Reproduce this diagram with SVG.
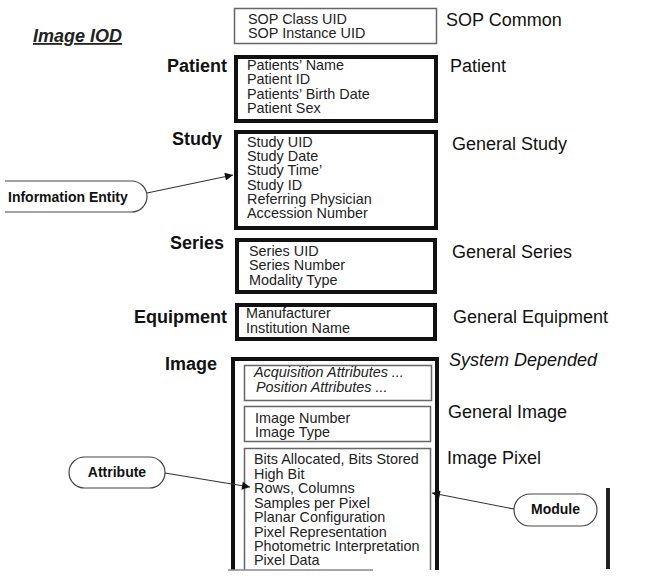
<svg xmlns="http://www.w3.org/2000/svg" width="650" height="583" viewBox="0 0 650 583">
<style>
.attr{font-family:"Liberation Sans",Arial,sans-serif;font-size:14.4px;fill:#222}
.ital{font-style:italic}
.mod{font-family:"Liberation Sans",Arial,sans-serif;font-size:18px;fill:#111}
.ie{font-family:"Liberation Sans",Arial,sans-serif;font-size:18px;font-weight:bold;fill:#111;text-anchor:end}
.call{font-family:"Liberation Sans",Arial,sans-serif;font-size:14px;font-weight:bold;fill:#111}
.thin{fill:#fff;stroke:#666;stroke-width:1.5}
.thick{fill:#fff;stroke:#111;stroke-width:4}
.pill{fill:#fff;stroke:#444;stroke-width:1.2}
.conn{stroke:#333;stroke-width:1.1;fill:none;marker-end:url(#ah)}
</style>
<defs>
<marker id="ah" viewBox="0 0 10 10" refX="10" refY="5" markerWidth="10" markerHeight="8" markerUnits="userSpaceOnUse" orient="auto">
<path d="M0,0 L10,5 L0,10 z" fill="#111"/>
</marker>
</defs>
<rect width="650" height="583" fill="#fff"/>

<g id="title">
<text x="33" y="42" font-family="Liberation Sans, Arial, sans-serif" font-size="18" font-weight="bold" font-style="italic" fill="#222" text-decoration="underline">Image IOD</text>
</g>

<g id="sop-common">
<rect class="thin" x="234.5" y="8.5" width="202" height="35"/>
<text class="attr" x="248" y="24">SOP Class UID</text>
<text class="attr" x="248" y="38">SOP Instance UID</text>
<text class="mod" x="446" y="26">SOP Common</text>
</g>

<g id="patient">
<text class="ie" x="227" y="72">Patient</text>
<rect class="thick" x="236" y="57" width="200" height="64"/>
<text class="attr" x="247" y="70">Patients’ Name</text>
<text class="attr" x="247" y="84.3">Patient ID</text>
<text class="attr" x="247" y="98.6">Patients’ Birth Date</text>
<text class="attr" x="247" y="113">Patient Sex</text>
<text class="mod" x="450" y="72">Patient</text>
</g>

<g id="study">
<text class="ie" x="222" y="145">Study</text>
<rect class="thick" x="236" y="132" width="200" height="96"/>
<text class="attr" x="247" y="147">Study UID</text>
<text class="attr" x="247" y="161.2">Study Date</text>
<text class="attr" x="247" y="175.4">Study Time’</text>
<text class="attr" x="247" y="189.6">Study ID</text>
<text class="attr" x="247" y="203.8">Referring Physician</text>
<text class="attr" x="247" y="218">Accession Number</text>
<text class="mod" x="452" y="150">General Study</text>
</g>

<g id="series">
<text class="ie" x="224" y="249">Series</text>
<rect class="thick" x="237" y="240" width="198" height="52"/>
<text class="attr" x="249" y="255.5">Series UID</text>
<text class="attr" x="249" y="270">Series Number</text>
<text class="attr" x="249" y="284.5">Modality Type</text>
<text class="mod" x="452" y="258">General Series</text>
</g>

<g id="equipment">
<text class="ie" x="227" y="323">Equipment</text>
<rect class="thick" x="237" y="305" width="198" height="34"/>
<text class="attr" x="246" y="318">Manufacturer</text>
<text class="attr" x="246" y="333">Institution Name</text>
<text class="mod" x="453" y="323">General Equipment</text>
</g>

<g id="image">
<text class="ie" x="217" y="370">Image</text>
<path d="M233,570 V359 H437 V570" fill="#fff" stroke="#111" stroke-width="4"/>
<text class="mod ital" x="449" y="366">System Depended</text>
</g>

<g id="system-depended">
<rect class="thin" x="244.5" y="365.5" width="187" height="35"/>
<text class="attr ital" x="254" y="377">Acquisition Attributes ...</text>
<text class="attr ital" x="256" y="392">Position Attributes ...</text>
</g>

<g id="general-image">
<rect class="thin" x="244.5" y="406.5" width="186" height="35"/>
<text class="attr" x="255" y="423">Image Number</text>
<text class="attr" x="255" y="437">Image Type</text>
<text class="mod" x="448" y="418">General Image</text>
</g>

<g id="image-pixel">
<path d="M244.5,570 V448.5 H430.5 V570" class="thin"/>
<line x1="228" y1="570" x2="373" y2="570" stroke="#888" stroke-width="1.5"/>
<text class="attr" x="254" y="464">Bits Allocated, Bits Stored</text>
<text class="attr" x="254" y="478.5">High Bit</text>
<text class="attr" x="254" y="493">Rows, Columns</text>
<text class="attr" x="254" y="507.5">Samples per Pixel</text>
<text class="attr" x="254" y="522">Planar Configuration</text>
<text class="attr" x="254" y="536.5">Pixel Representation</text>
<text class="attr" x="254" y="551">Photometric Interpretation</text>
<text class="attr" x="254" y="565">Pixel Data</text>
<text class="mod" x="447" y="464">Image Pixel</text>
</g>

<g id="information-entity">
<path class="pill" d="M5,181 H131.5 A15.5,15.5 0 0 1 131.5,212 H5"/>
<text class="call" x="8" y="202">Information Entity</text>
</g>

<g id="attribute">
<rect class="pill" x="69" y="457" width="96" height="31" rx="15.5"/>
<text class="call" x="117" y="477" text-anchor="middle">Attribute</text>
</g>

<g id="module">
<rect class="pill" x="514" y="494" width="83" height="32" rx="16"/>
<text class="call" x="555.5" y="514" text-anchor="middle">Module</text>
</g>

<g id="side-bar">
<line x1="608" y1="488" x2="608" y2="569" stroke="#222" stroke-width="4"/>
</g>

<g id="connectors">
<line class="conn" x1="147" y1="193" x2="233" y2="175"/>
<line class="conn" x1="165" y1="473" x2="250" y2="487"/>
<line class="conn" x1="514" y1="509" x2="432" y2="493"/>
</g>
</svg>
